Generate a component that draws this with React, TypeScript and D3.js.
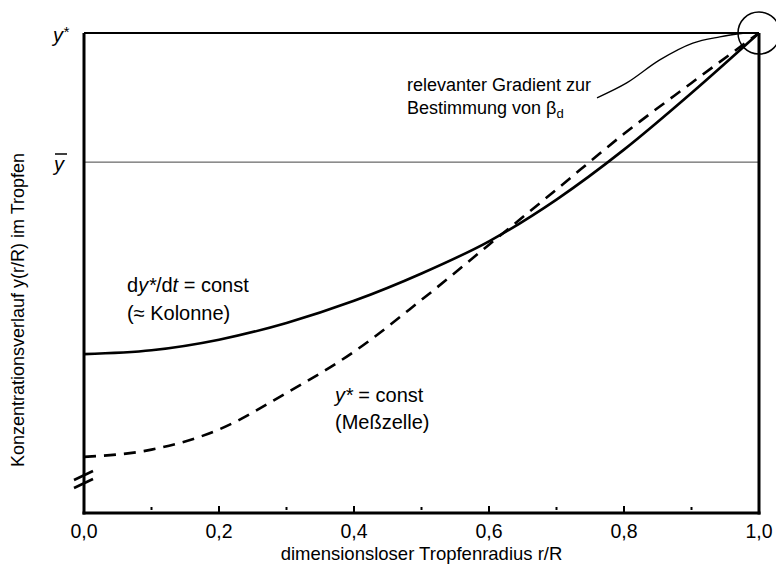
import React from "react";
import * as d3 from "d3";

const W = 776;
const H = 565;

// data (r/R, normalized concentration: 0 = bottom of axis, 1 = y*)
const rValues = [0, 0.1, 0.2, 0.3, 0.4, 0.5, 0.6, 0.7, 0.8, 0.9, 1.0];
const kolonneValues = [0.331, 0.339, 0.361, 0.396, 0.442, 0.499, 0.566, 0.653, 0.757, 0.875, 1.0];
const messzelleValues = [0.117, 0.132, 0.174, 0.25, 0.336, 0.444, 0.559, 0.674, 0.79, 0.896, 1.0];
const yBarValue = 0.731;
const yStarValue = 1.0;
const majorTicks = [0, 0.2, 0.4, 0.6, 0.8, 1.0];
const minorTicks = [0.1, 0.3, 0.5, 0.7, 0.9];
const tickLabels = ["0,0", "0,2", "0,4", "0,6", "0,8", "1,0"];
const annotR = [0.76, 0.804, 0.853, 0.902, 0.942, 0.979];
const annotV = [0.865, 0.896, 0.944, 0.979, 0.992, 1.0];

const FONT = "'Liberation Sans', Arial, Helvetica, sans-serif";

export default function App() {
  const x = d3.scaleLinear().domain([0, 1]).range([84, 759]);
  const y = d3.scaleLinear().domain([0, 1]).range([513, 33]);

  const line = d3
    .line<[number, number]>()
    .x((d) => x(d[0]))
    .y((d) => y(d[1]))
    .curve(d3.curveMonotoneX);

  const solid = line(rValues.map((r, i) => [r, kolonneValues[i]] as [number, number])) || "";
  const dashed = line(rValues.map((r, i) => [r, messzelleValues[i]] as [number, number])) || "";

  const annotLine = d3
    .line<[number, number]>()
    .x((d) => x(d[0]))
    .y((d) => y(d[1]))
    .curve(d3.curveCatmullRom);
  const annot = annotLine(annotR.map((r, i) => [r, annotV[i]] as [number, number])) || "";

  const x0 = x(0);
  const x1 = x(1);
  const yb = y(0);
  const yt = y(yStarValue);
  const ybar = y(yBarValue);

  return (
    <svg
      width={W}
      height={H}
      style={{ position: "absolute", left: 0, top: 0, background: "#fff" }}
      fontFamily={FONT}
    >
      <rect x={0} y={0} width={W} height={H} fill="#fff" />
      {/* y* line (top) */}
      <line x1={x0} x2={x1} y1={yt} y2={yt} stroke="#000" strokeWidth={2} />
      {/* y-bar line */}
      <line x1={x0} x2={x1} y1={ybar} y2={ybar} stroke="#444" strokeWidth={1} />
      {/* axes */}
      <line x1={x0} x2={x0} y1={yt} y2={yb + 1.5} stroke="#000" strokeWidth={3} />
      <line x1={x0 - 1.5} x2={x1 + 1.5} y1={yb} y2={yb} stroke="#000" strokeWidth={3} />
      <line x1={x1} x2={x1} y1={yt} y2={yb + 1.5} stroke="#000" strokeWidth={3} />
      {/* axis break marks */}
      <line x1={x0 - 10} x2={x0 + 9} y1={480} y2={471} stroke="#000" strokeWidth={2.5} />
      <line x1={x0 - 10} x2={x0 + 9} y1={488} y2={479} stroke="#000" strokeWidth={2.5} />
      {/* ticks */}
      {majorTicks.slice(1, -1).map((t) => (
        <line key={"M" + t} x1={x(t)} x2={x(t)} y1={yb - 1} y2={yb - 7} stroke="#000" strokeWidth={2} />
      ))}
      {minorTicks.map((t) => (
        <line key={"m" + t} x1={x(t)} x2={x(t)} y1={yb - 3} y2={yb - 6} stroke="#000" strokeWidth={2} />
      ))}
      {majorTicks.map((t, i) => (
        <text key={"l" + t} x={x(t)} y={537.5} textAnchor="middle" fontSize={19.5} fill="#000">
          {tickLabels[i]}
        </text>
      ))}
      <text x={(x0 + x1) / 2} y={560} textAnchor="middle" fontSize={18.5} fill="#000">
        dimensionsloser Tropfenradius r/R
      </text>
      <text
        transform={`translate(24, ${310}) rotate(-90)`}
        textAnchor="middle"
        fontSize={18}
        fill="#000"
      >
        Konzentrationsverlauf y(r/R) im Tropfen
      </text>
      {/* y* and y-bar labels */}
      <text x={53} y={42} fontSize={20} fontStyle="italic" fill="#000">
        y
        <tspan dy={-5} fontSize={15}>*</tspan>
      </text>
      <text x={54} y={171} fontSize={20} fontStyle="italic" fill="#000">
        y
      </text>
      <line x1={55} x2={67} y1={154} y2={154} stroke="#000" strokeWidth={1.5} />
      {/* curves */}
      <path d={solid} fill="none" stroke="#000" strokeWidth={2.6} />
      <path d={dashed} fill="none" stroke="#000" strokeWidth={2.6} strokeDasharray="12 8" />
      {/* annotation */}
      <path d={annot} fill="none" stroke="#000" strokeWidth={1.3} />
      <circle cx={x(1)} cy={y(1)} r={21} fill="none" stroke="#000" strokeWidth={1.5} />
      <text x={407} y={91} fontSize={18} fill="#000">
        relevanter Gradient zur
      </text>
      <text x={407} y={114} fontSize={18} fill="#000">
        Bestimmung von β<tspan dy={4} fontSize={13}>d</tspan>
      </text>
      {/* curve labels */}
      <text x={127} y={292} fontSize={20} fill="#000">
        d<tspan fontStyle="italic">y</tspan>
        <tspan fontStyle="italic">*</tspan>/d<tspan fontStyle="italic">t</tspan> = const
      </text>
      <text x={127} y={320} fontSize={20} fill="#000">
        (≈ Kolonne)
      </text>
      <text x={335} y={402} fontSize={20} fill="#000">
        <tspan fontStyle="italic">y</tspan>
        <tspan fontStyle="italic">*</tspan> = const
      </text>
      <text x={335} y={429} fontSize={20} fill="#000">
        (Meßzelle)
      </text>
    </svg>
  );
}
